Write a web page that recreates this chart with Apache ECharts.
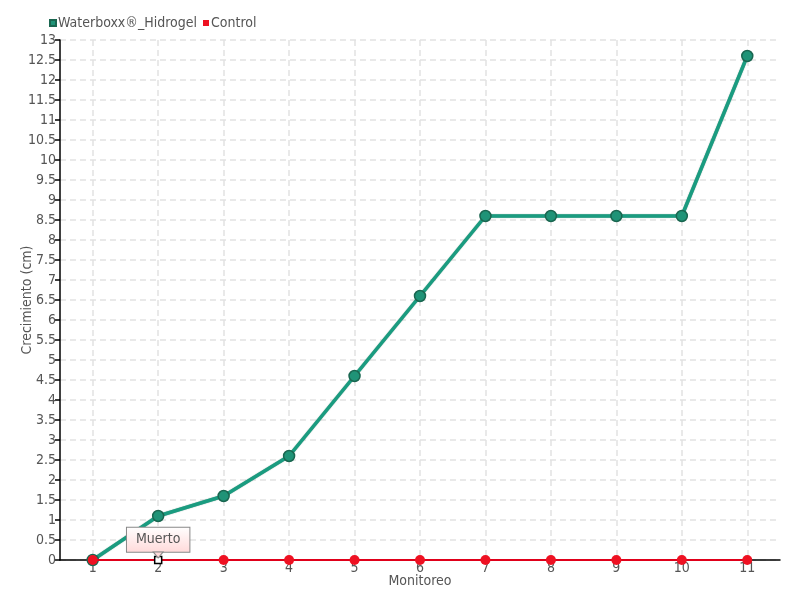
<!DOCTYPE html>
<html><head><meta charset="utf-8">
<script src="https://cdn.jsdelivr.net/npm/echarts@6/dist/echarts.min.js"></script>
<style>html,body{margin:0;padding:0;background:#fff}#c{width:800px;height:600px}</style>
</head><body><div id="c"></div>
<script>
const categories = [1, 2, 3, 4, 5, 6, 7, 8, 9, 10, 11];
const waterboxx = [0, 1.1, 1.6, 2.6, 4.6, 6.6, 8.6, 8.6, 8.6, 8.6, 12.6];
const control = [0, 0, 0, 0, 0, 0, 0, 0, 0, 0, 0];
const yTicks = {min: 0, max: 13, interval: 0.5};
const noteIndex = 1;
const noteText = 'Muerto';

const FONT = '"Liberation Sans Narrow", "DejaVu Sans Condensed", "DejaVu Sans", sans-serif';
const chart = echarts.init(document.getElementById('c'), null, {renderer: 'canvas'});
const pair = arr => categories.map((c, i) => [c, arr[i]]);
const controlData = pair(control).map((p, i) => i === noteIndex ? {
  value: p, symbol: 'rect', symbolSize: 7,
  itemStyle: {color: '#fff', borderColor: '#000', borderWidth: 1.5},
  label: {
    show: true, position: 'top', distance: 4, formatter: noteText,
    fontFamily: FONT, fontSize: 14, color: '#555',
    padding: [5, 9, 5, 9], borderColor: '#888', borderWidth: 1,
    backgroundColor: new echarts.graphic.LinearGradient(0, 0, 0, 1, [
      {offset: 0, color: '#ffffff'}, {offset: 1, color: '#ffd9d9'}])
  }
} : p);

chart.setOption({
  animation: false,
  textStyle: {fontFamily: FONT},
  legend: {
    left: 44, top: 11, itemWidth: 6, itemHeight: 6, itemGap: 6,
    icon: 'rect',
    textStyle: {fontFamily: FONT, fontSize: 14, color: '#555', padding: [0, 0, 0, -3]},
    data: ['Waterboxx®_Hidrogel', 'Control']
  },
  grid: {left: 60, right: 20, top: 40, bottom: 40, containLabel: false, outerBoundsMode: 'none'},
  xAxis: {
    type: 'value', min: 0.5, max: 11.5,
    name: 'Monitoreo', nameLocation: 'middle', nameGap: 14, nameMoveOverlap: false,
    nameTextStyle: {fontFamily: FONT, fontSize: 14, color: '#555'},
    axisLine: {lineStyle: {color: '#000', width: 1.5}},
    axisTick: {show: false, customValues: categories},
    axisLabel: {fontFamily: FONT, fontSize: 14, color: '#555', margin: 1,
      customValues: categories},
    splitLine: {show: true, lineStyle: {color: '#e2e2e2', type: [6, 4], width: 1.5}}
  },
  yAxis: {
    type: 'value', min: yTicks.min, max: yTicks.max, interval: yTicks.interval,
    name: 'Crecimiento (cm)', nameLocation: 'middle', nameGap: 26, nameMoveOverlap: false,
    nameTextStyle: {fontFamily: FONT, fontSize: 14, color: '#555'},
    axisLine: {show: true, lineStyle: {color: '#000', width: 1.5}},
    axisTick: {show: true, length: 5, lineStyle: {color: '#000', width: 1.5}},
    axisLabel: {fontFamily: FONT, fontSize: 14, color: '#555', margin: 4},
    splitLine: {show: true, lineStyle: {color: '#e2e2e2', type: [6, 4], width: 1.5}}
  },
  series: [
    {
      name: 'Waterboxx®_Hidrogel', type: 'line', data: pair(waterboxx),
      symbol: 'circle', symbolSize: 11,
      lineStyle: {color: '#1a9c80', width: 3.5, shadowColor: 'rgba(20,90,70,0.6)', shadowBlur: 1},
      itemStyle: {color: '#1f9377', borderColor: '#1a6650', borderWidth: 1.5},
      z: 2
    },
    {
      name: 'Control', type: 'line', data: controlData,
      symbol: 'circle', symbolSize: 10,
      lineStyle: {color: '#e0001a', width: 1.8},
      itemStyle: {color: '#ee1122'},
      z: 3,
      markPoint: {
        symbol: 'triangle', symbolSize: [10, 6], symbolRotate: 180,
        symbolOffset: [0, -5],
        itemStyle: {color: '#ffdada', borderColor: '#888', borderWidth: 1},
        label: {show: false},
        data: [{coord: [categories[noteIndex], control[noteIndex]]}]
      }
    }
  ]
});
</script></body></html>
